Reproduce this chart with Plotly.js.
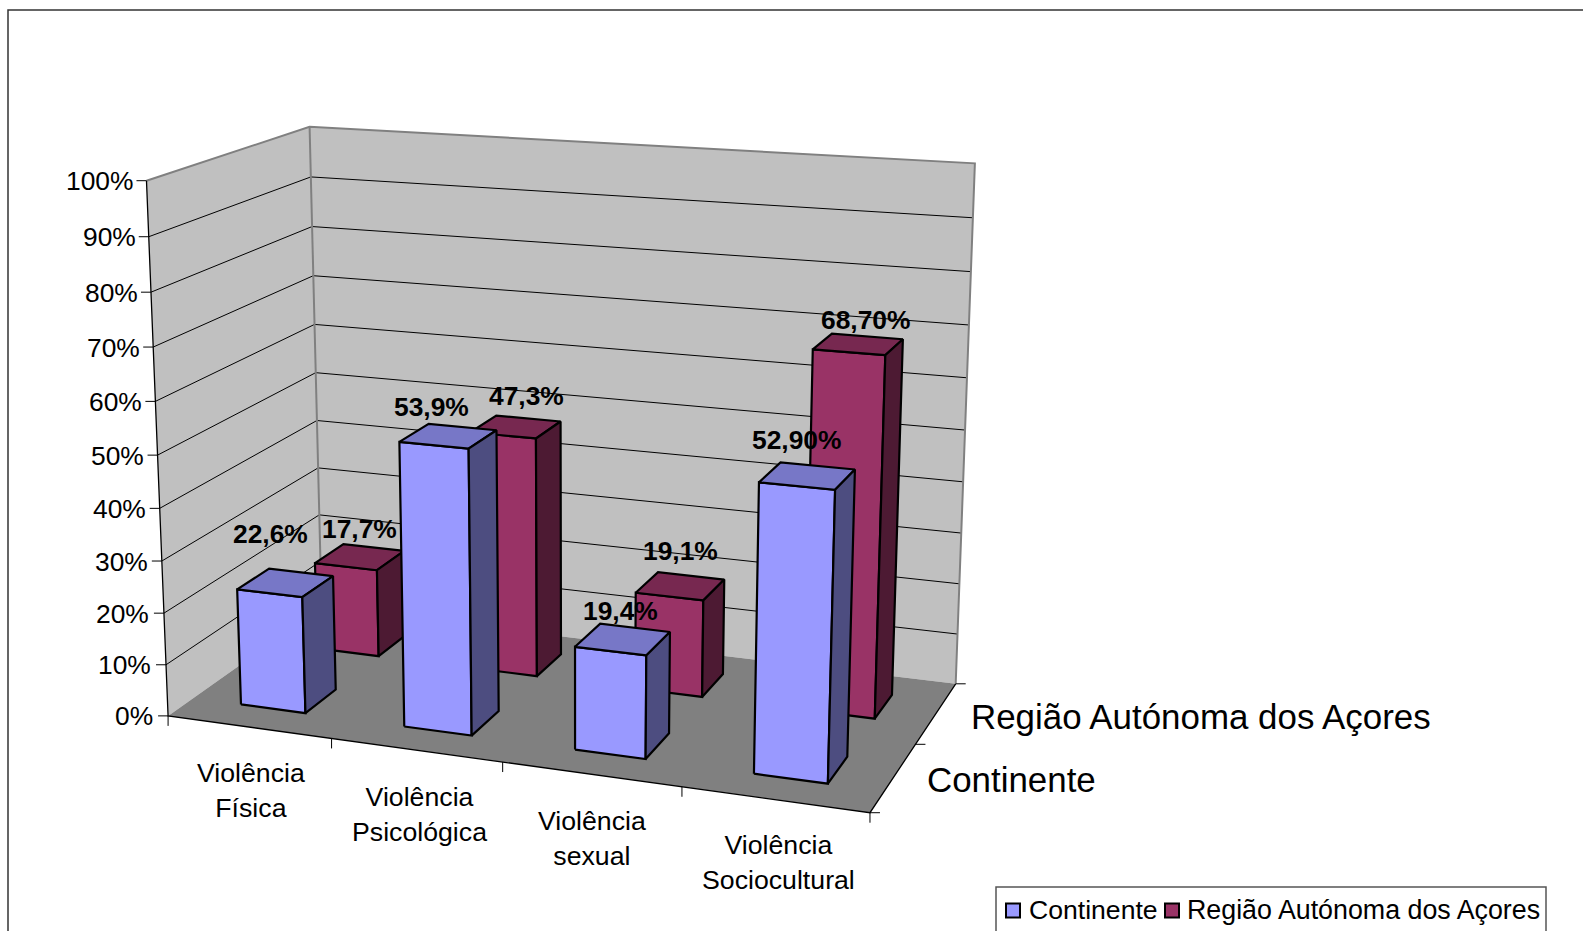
<!DOCTYPE html>
<html>
<head>
<meta charset="utf-8">
<script src="https://cdn.plot.ly/plotly-3.0.1.min.js"></script>
<style>html,body{margin:0;padding:0;background:#fff;overflow:hidden}#chart{width:1583px;height:931px}</style>
</head>
<body>
<div id="chart"></div>
<script>
// ---- data ----
const categories = ["Violência<br>Física", "Violência<br>Psicológica", "Violência<br>sexual", "Violência<br>Sociocultural"];
const seriesNames = ["Continente", "Região Autónoma dos Açores"];
const continente = [22.6, 53.9, 19.4, 52.9];
const acores = [17.7, 47.3, 19.1, 68.7];
const continenteLabels = ["22,6%", "53,9%", "19,4%", "52,90%"];
const acoresLabels = ["17,7%", "47,3%", "19,1%", "68,70%"];
const valueTicks = [0, 10, 20, 30, 40, 50, 60, 70, 80, 90, 100];
const valueTickLabels = ["0%", "10%", "20%", "30%", "40%", "50%", "60%", "70%", "80%", "90%", "100%"];

// ---- page placement of the labels ----
const FONT = "Liberation Sans, Arial, sans-serif";
const categoryLabelPos = [[251, 790], [419, 814], [592, 838], [778, 862]];
const continenteLabelPos = [[270, 534], [431, 407], [620, 611], [796.5, 440]];
const acoresLabelPos = [[359, 529], [526, 396], [680, 551], [866, 320]];

// ---- 3D view: calibration of a perspective camera from the box corners ----
// [u (0..4), depth (0..1), value (0..100), pageX, pageY]
const calib = [
  [0, 0, 0, 168.3, 717], [4, 0, 0, 869.5, 812.2], [4, 1, 0, 956, 684.3], [0, 1, 0, 321.5, 606.5],
  [0, 0, 100, 146.7, 180], [0, 1, 100, 309.3, 127.5], [4, 1, 100, 975, 163.3]
];
function solve(A, b) {
  const n = b.length, M = A.map((r, i) => r.concat([b[i]]));
  for (let i = 0; i < n; i++) {
    let p = i;
    for (let k = i + 1; k < n; k++) if (Math.abs(M[k][i]) > Math.abs(M[p][i])) p = k;
    [M[i], M[p]] = [M[p], M[i]];
    for (let k = i + 1; k < n; k++) {
      const f = M[k][i] / M[i][i];
      for (let j = i; j <= n; j++) M[k][j] -= f * M[i][j];
    }
  }
  const x = new Array(n).fill(0);
  for (let i = n - 1; i >= 0; i--) {
    let s = M[i][n];
    for (let j = i + 1; j < n; j++) s -= M[i][j] * x[j];
    x[i] = s / M[i][i];
  }
  return x;
}
const cam = (function () {
  const rows = [], rhs = [];
  calib.forEach(c => {
    const X = c[0] / 4, Y = c[1], Z = c[2] / 100, px = c[3] / 1000, py = c[4] / 1000;
    rows.push([X, Y, Z, 1, 0, 0, 0, 0, -px * X, -px * Y, -px * Z]); rhs.push(px);
    rows.push([0, 0, 0, 0, X, Y, Z, 1, -py * X, -py * Y, -py * Z]); rhs.push(py);
  });
  const n = 11, AtA = [], Atb = [];
  for (let i = 0; i < n; i++) {
    AtA.push(new Array(n).fill(0)); Atb.push(0);
    for (let r = 0; r < rows.length; r++) {
      Atb[i] += rows[r][i] * rhs[r];
      for (let j = 0; j < n; j++) AtA[i][j] += rows[r][i] * rows[r][j];
    }
  }
  return solve(AtA, Atb);
})();
function project(u, d, val) {
  const X = u / 4, Y = d, Z = val / 100;
  const den = cam[8] * X + cam[9] * Y + cam[10] * Z + 1;
  return [1000 * (cam[0] * X + cam[1] * Y + cam[2] * Z + cam[3]) / den,
          1000 * (cam[4] * X + cam[5] * Y + cam[6] * Z + cam[7]) / den];
}

// ---- trace helpers ----
const traces = [];
function poly(pts, fill, lineColor, lineWidth, name, closed) {
  const path = closed ? pts.concat([pts[0]]) : pts;
  traces.push({
    type: "scatter", mode: "lines", x: path.map(p => p[0]), y: path.map(p => p[1]),
    fill: fill ? "toself" : "none", fillcolor: fill || undefined,
    line: { color: lineColor || "rgba(0,0,0,0)", width: lineWidth || 0.01 },
    showlegend: false, hoverinfo: "skip", name: name || ""
  });
}

// walls and floor
poly([project(0,0,0), project(0,1,0), project(0,1,100), project(0,0,100)], "#C0C0C0", null, 0, "left wall", true);
poly([project(0,1,0), project(4,1,0), project(4,1,100), project(0,1,100)], "#C0C0C0", null, 0, "back wall", true);
poly([project(0,0,0), project(4,0,0), project(4,1,0), project(0,1,0)], "#808080", null, 0, "floor", true);

// gridlines and wall edges
valueTicks.slice(1, -1).forEach(v => {
  poly([project(0,0,v), project(0,1,v), project(4,1,v)], null, "#000", 1, "grid " + v);
});
poly([project(0,0,100), project(0,1,100), project(4,1,100), project(4,1,0)], null, "#808080", 2, "wall edge");
poly([project(0,1,100), project(0,1,0)], null, "#808080", 2, "wall corner");

// axis lines and ticks
poly([project(0,0,100), project(0,0,0), project(4,0,0), project(4,1,0)], null, "#000", 1.3, "axes");
valueTicks.forEach(v => {
  const p = project(0,0,v);
  poly([[p[0] - 10, p[1]], p], null, "#000", 1, "value tick");
});
[0, 1, 2, 3, 4].forEach(u => {
  const p = project(u,0,0);
  poly([p, [p[0], p[1] + 10]], null, "#000", 1, "category tick");
});
[0, 0.5, 1].forEach(d => {
  const p = project(4,d,0);
  poly([p, [p[0] + 10, p[1]]], null, "#000", 1, "series tick");
});

// bars
function bar(i, row, val, front, top, side, name) {
  const u0 = i + 0.3, u1 = i + 0.7, d0 = row * 0.5 + 0.15, d1 = row * 0.5 + 0.35;
  poly([project(u0,d0,0), project(u1,d0,0), project(u1,d0,val), project(u0,d0,val)], front, "#000", 2.2, name, true);
  poly([project(u0,d0,val), project(u1,d0,val), project(u1,d1,val), project(u0,d1,val)], top, "#000", 2.2, name, true);
  poly([project(u1,d0,0), project(u1,d1,0), project(u1,d1,val), project(u1,d0,val)], side, "#000", 2.2, name, true);
}
acores.forEach((v, i) => bar(i, 1, v, "#993366", "#772850", "#4D1A33", seriesNames[1]));
continente.forEach((v, i) => bar(i, 0, v, "#9999FF", "#7777C7", "#4D4D80", seriesNames[0]));

// legend swatches
const swatchColors = ["#9999FF", "#993366"], swatchX = [1013, 1172];
seriesNames.forEach((s, i) => traces.push({
  type: "scatter", mode: "markers", x: [swatchX[i]], y: [910.5], name: s, showlegend: false, hoverinfo: "skip",
  marker: { symbol: "square", size: 14, color: swatchColors[i], line: { color: "#000", width: 2 } }
}));

// ---- text ----
const annotations = [];
function text(x, y, s, size, opt) {
  annotations.push(Object.assign({
    x: x, y: y, xref: "x", yref: "y", text: s, showarrow: false, xanchor: "center", yanchor: "middle",
    font: { family: FONT, size: size, color: "#000" }
  }, opt || {}));
}
valueTicks.forEach((v, i) => {
  const p = project(0,0,v);
  text(p[0] - 13 + 0.025 * v, p[1] + 0.5, valueTickLabels[i], 26.4, { xanchor: "right" });
});
categories.forEach((c, i) => text(categoryLabelPos[i][0], categoryLabelPos[i][1], c, 26.7));
continenteLabels.forEach((s, i) => text(continenteLabelPos[i][0], continenteLabelPos[i][1], "<b>" + s + "</b>", 26.4));
acoresLabels.forEach((s, i) => text(acoresLabelPos[i][0], acoresLabelPos[i][1], "<b>" + s + "</b>", 26.4));
text(969, 716, seriesNames[1], 34.9, { xanchor: "left" });
text(925, 779, seriesNames[0], 34.9, { xanchor: "left" });
text(1027, 910, seriesNames[0], 26.6, { xanchor: "left" });
text(1185, 910, seriesNames[1], 26.8, { xanchor: "left" });

const layout = {
  width: 1583, height: 931, margin: { l: 0, r: 0, t: 0, b: 0 },
  paper_bgcolor: "#fff", plot_bgcolor: "#fff", showlegend: false, hovermode: false,
  xaxis: { range: [0, 1583], visible: false, fixedrange: true },
  yaxis: { range: [931, 0], visible: false, fixedrange: true },
  annotations: annotations,
  shapes: [
    { type: "rect", xref: "x", yref: "y", x0: 8, y0: 10, x1: 1600, y1: 960, line: { color: "#333", width: 1.5 }, layer: "below" },
    { type: "rect", xref: "x", yref: "y", x0: 996, y0: 887, x1: 1546, y1: 960, line: { color: "#555", width: 1.5 }, layer: "below" }
  ]
};
Plotly.newPlot("chart", traces, layout, { displayModeBar: false, staticPlot: true });
</script>
</body>
</html>
